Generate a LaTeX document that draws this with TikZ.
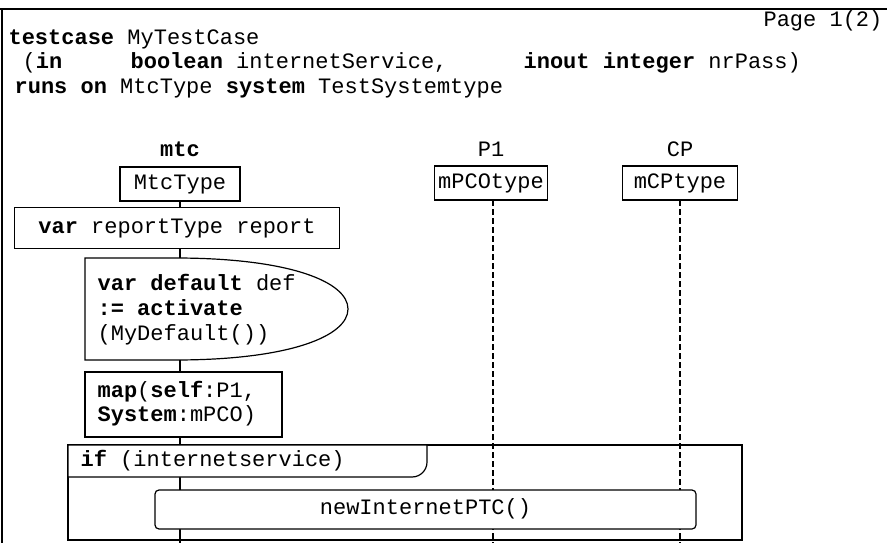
\documentclass[tikz,border=0pt]{standalone}
\usepackage{fontspec}
\setmainfont{Liberation Mono}
\begin{document}
\begin{tikzpicture}[x=1pt,y=-1pt,line width=1.2pt,
  txt/.style={inner sep=0pt,font=\fontsize{22}{24.5}\selectfont,text height=15pt,text depth=5pt},
  boxn/.style={txt,draw,fill=white,minimum height=34pt},
  life/.style={line width=1.1pt,dash pattern=on 6pt off 3pt}]
\useasboundingbox (0,0) rectangle (887,543);
% frame
\coordinate (ftl) at (0,9);
\coordinate (ftr) at (887,9);
\coordinate (flt) at (2,9);
\coordinate (flb) at (2,543);
\draw (ftl) -- (ftr);
\draw (flt) -- (flb);
% header
\node[txt,anchor=east] (page) at (883,22) {Page 1(2)};
\node[txt,anchor=west] (l1) at (8,40) {\textbf{testcase} MyTestCase};
\node[txt,anchor=west] (l2a) at (22,64) {(\textbf{in}};
\node[txt,anchor=west] (l2b) at (130,64) {\textbf{boolean} internetService,};
\node[txt,anchor=west] (l2c) at (523,64) {\textbf{inout integer} nrPass)};
\node[txt,anchor=west] (l3) at (14,88) {\textbf{runs on} MtcType \textbf{system} TestSystemtype};
% instance heads
\node[txt] (mtcl) at (180,152) {\textbf{mtc}};
\node[txt] (p1l) at (491,152) {P1};
\node[txt] (cpl) at (680,152) {CP};
\node[boxn,minimum width=120pt] (mtc) at (180,184) {MtcType};
\node[boxn,minimum width=113pt] (p1) at (491,183) {mPCOtype};
\node[boxn,minimum width=115pt] (cp) at (680,183) {mCPtype};
% lifelines
\coordinate (mtcend) at (180,543);
\coordinate (p1top) at (493,200);
\coordinate (p1end) at (493,543);
\coordinate (cptop) at (680,200);
\coordinate (cpend) at (680,543);
\draw (mtc.south) -- (mtcend);
\draw[life] (p1top) -- (p1end);
\draw[life] (cptop) -- (cpend);
% report
\node[boxn,minimum width=325pt,minimum height=41pt] (rep) at (177,228) {\textbf{var} reportType report};
% default symbol
\draw[fill=white] (85,258) -- (175,258) .. controls (290,258) and (348,282) .. (348,309)
  .. controls (348,336) and (290,360) .. (175,360) -- (85,360) -- cycle;
\node[txt,anchor=west] (def1) at (97,285) {\textbf{var default} def};
\node[txt,anchor=west] (def2) at (97,310) {\textbf{:= activate}};
\node[txt,anchor=west] (def3) at (97,335) {(MyDefault())};
% map
\node[boxn,minimum width=197pt,minimum height=65pt] (mapb) at (183.5,404.5) {};
\node[txt,anchor=west] (map1) at (97,392) {\textbf{map}(\textbf{self}:P1,};
\node[txt,anchor=west] (map2) at (97,416) {\textbf{System}:mPCO)};
% if frame
\draw (68,445) rectangle (742,540);
\draw[fill=white] (68,445) -- (427,445) -- (427,462) to[out=-90,in=0] (412,477) -- (68,477) -- cycle;
\node[txt,anchor=west] (ift) at (80,461) {\textbf{if} (internetservice)};
% create
\node[boxn,rounded corners=4pt,minimum width=541pt,minimum height=39pt] (ptc) at (425.5,509.5) {newInternetPTC()};
\end{tikzpicture}
\end{document}
